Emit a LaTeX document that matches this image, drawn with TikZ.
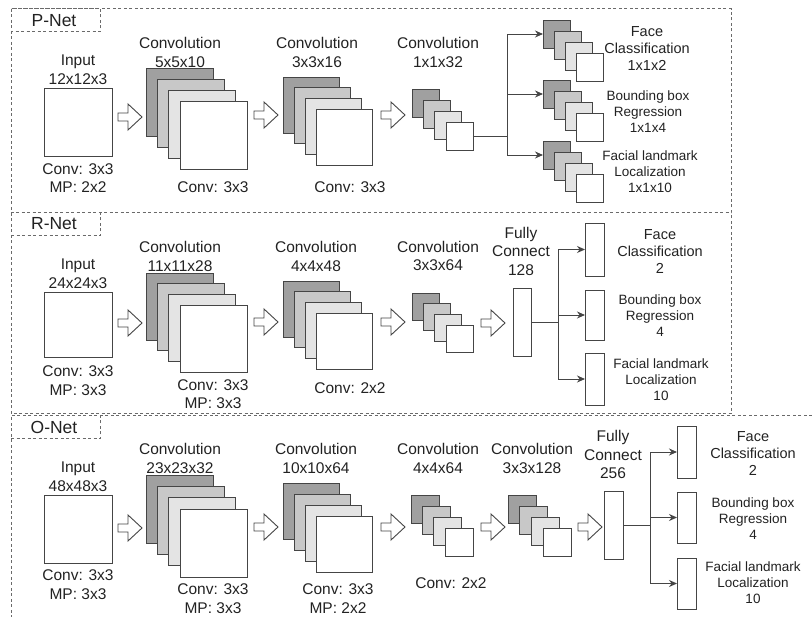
\documentclass[tikz,border=0pt]{standalone}
\usepackage{fontspec}
\setmainfont{Liberation Sans}
\usetikzlibrary{arrows.meta}
\definecolor{g1}{HTML}{A0A0A0}
\definecolor{g2}{HTML}{C8C8C8}
\definecolor{g3}{HTML}{E4E4E4}
\definecolor{ink}{HTML}{222222}
\definecolor{edge}{HTML}{454545}
\definecolor{frm}{HTML}{6A6A6A}
\tikzset{
  frame/.style={draw=frm, line width=1pt, dash pattern=on 3pt off 2.5pt},
  sq/.style={draw=edge, line width=0.9pt, rectangle, inner sep=0pt, outer sep=0pt},
  t/.style={font=\fontsize{15.5}{18.5}\selectfont, text=ink, align=center, inner sep=0pt},
  ts/.style={font=\fontsize{14.5}{17}\selectfont, text=ink, align=center, inner sep=0pt},
  tss/.style={font=\fontsize{13.5}{16}\selectfont, text=ink, align=center, inner sep=0pt},
  tn/.style={font=\fontsize{17.5}{20}\selectfont, text=ink, inner sep=0pt},
  harrow/.style={draw=edge, line width=0.9pt, fill=white, line join=miter},
  conn/.style={draw=edge, line width=0.9pt},
  carr/.style={conn, -{Stealth[length=8pt,width=7pt]}}
}
\newcommand\stk[7]{%
  \foreach \i/\c in {0/g1,1/g2,2/g3,3/white}{%
    \node[sq, fill=\c, minimum width=#4, minimum height=#5] (#1\i) at ({#2+\i*#6+#4/2},{#3+\i*#7+#5/2}) {};
  }}
\newcommand\blockarrow[2]{%
  \draw[harrow] (#1,{#2-4}) -- ({#1+10},{#2-4}) -- ({#1+10},{#2-13}) -- ({#1+24},#2) -- ({#1+10},{#2+13}) -- ({#1+10},{#2+4}) -- (#1,{#2+4}) -- cycle;}
\begin{document}
\begin{tikzpicture}[x=1pt,y=-1pt]
\useasboundingbox (0,0) rectangle (812,617);
% frames
\draw[frame] (11,9) rectangle (731,213);
\draw[frame] (11,9) rectangle (100,32);
\draw[frame] (11,213) -- (11,414) -- (731,414) -- (731,213);
\draw[frame] (11,236) -- (100,236) -- (100,213);
\draw[frame] (812,415.5) -- (11,415.5) -- (11,617);
\draw[frame] (11,439) -- (100,439) -- (100,415.5);
\node[tn] (plab) at (54,20.5) {P-Net};
\node[tn] (rlab) at (54,224) {R-Net};
\node[tn] (olab) at (54,427) {O-Net};

% ---------------- P-Net ----------------
\node[sq, fill=white, minimum width=68, minimum height=68] (pin) at (78,122) {};
\node[t] (pinl) at (78,69.5) {Input\\12x12x3};
\node[t] (pinb) at (78,178) {Conv: 3x3\\MP: 2x2};
\blockarrow{118}{117}
\stk{pa}{146}{68}{67}{68}{11.33}{11}
\node[t] (pal) at (180,52.5) {Convolution\\5x5x10};
\node[t] (pab) at (213,187) {Conv: 3x3};
\blockarrow{254}{115}
\stk{pb}{283}{77}{56}{56}{11}{10.67}
\node[t] (pbl) at (317,52.5) {Convolution\\3x3x16};
\node[t] (pbb) at (350,187) {Conv: 3x3};
\blockarrow{381}{115}
\stk{pc}{412}{89}{27}{28}{11.33}{11}
\node[t] (pcl) at (438,52.5) {Convolution\\1x1x32};
\stk{pf}{543}{20}{27}{28}{11}{11}
\stk{pr}{543}{80}{27}{28}{11}{11}
\stk{pl}{543}{141}{27}{28}{11}{11}
\draw[conn] (pc3.east) -- ++(34,0) coordinate (pj);
\draw[carr] (pj) |- (pf0.west);
\draw[carr] (pj) |- (pr0.west);
\draw[carr] (pj) |- (pl0.west);
\node[ts] (pfl) at (647,49) {Face\\Classification\\1x1x2};
\node[tss] (prl) at (648,112) {Bounding box\\Regression\\1x1x4};
\node[tss] (pll) at (650,172) {Facial landmark\\Localization\\1x1x10};

% ---------------- R-Net ----------------
\node[sq, fill=white, minimum width=68, minimum height=65] (rin) at (78,324.5) {};
\node[t] (rinl) at (78,273.5) {Input\\24x24x3};
\node[t] (rinb) at (78,380.5) {Conv: 3x3\\MP: 3x3};
\blockarrow{118}{323}
\stk{ra}{146}{273}{67}{67}{11.33}{10.67}
\node[t] (ral) at (180,256.5) {Convolution\\11x11x28};
\node[t] (rab) at (213,394) {Conv: 3x3\\MP: 3x3};
\blockarrow{254}{322}
\stk{rb}{283}{281}{56}{56}{11}{10.67}
\node[t] (rbl) at (316,256.5) {Convolution\\4x4x48};
\node[t] (rbb) at (350,388) {Conv: 2x2};
\blockarrow{381}{322}
\stk{rc}{412}{293}{27}{27}{11.33}{10.67}
\node[t] (rcl) at (438,256) {Convolution\\3x3x64};
\blockarrow{481}{323}
\node[sq, fill=white, minimum width=18, minimum height=68] (rfc) at (522,322) {};
\node[t] (rfcl) at (521,251) {Fully\\Connect\\128};
\node[sq, fill=white, minimum width=19, minimum height=53] (rf) at (594.5,249.5) {};
\node[sq, fill=white, minimum width=19, minimum height=50] (rr) at (594.5,315) {};
\node[sq, fill=white, minimum width=19, minimum height=52] (rl) at (594.5,379) {};
\draw[conn] (rfc.east) -- ++(27,0) coordinate (rj);
\draw[carr] (rj) |- (rf.west);
\draw[carr] (rj) |- (rr.west);
\draw[carr] (rj) |- (rl.west);
\node[ts] (rfl) at (660,252) {Face\\Classification\\2};
\node[tss] (rrl) at (660,316) {Bounding box\\Regression\\4};
\node[tss] (rll) at (661,380) {Facial landmark\\Localization\\10};

% ---------------- O-Net ----------------
\node[sq, fill=white, minimum width=68, minimum height=68] (oin) at (78,529) {};
\node[t] (oinl) at (78,476.5) {Input\\48x48x3};
\node[t] (oinb) at (78,584.5) {Conv: 3x3\\MP: 3x3};
\blockarrow{118}{528}
\stk{oa}{146}{475}{67}{68}{11.33}{11.33}
\node[t] (oal) at (180,458.5) {Convolution\\23x23x32};
\node[t] (oab) at (213,598.5) {Conv: 3x3\\MP: 3x3};
\blockarrow{254}{527}
\stk{ob}{283}{483}{56}{56}{11}{11}
\node[t] (obl) at (316,458.5) {Convolution\\10x10x64};
\node[t] (obb) at (338,598.5) {Conv: 3x3\\MP: 2x2};
\blockarrow{381}{527}
\stk{oc}{411}{495}{28}{28}{11.33}{11}
\node[t] (ocl) at (438,458.5) {Convolution\\4x4x64};
\node[t] (ocb) at (451,583) {Conv: 2x2};
\blockarrow{481}{527}
\stk{od}{508}{495}{28}{28}{11.67}{11}
\node[t] (odl) at (532,458.5) {Convolution\\3x3x128};
\blockarrow{578}{527}
\node[sq, fill=white, minimum width=19, minimum height=68] (ofc) at (613.5,525) {};
\node[t] (ofcl) at (613,454.5) {Fully\\Connect\\256};
\node[sq, fill=white, minimum width=19, minimum height=52] (of) at (686.5,452) {};
\node[sq, fill=white, minimum width=19, minimum height=51] (or) at (686.5,517.5) {};
\node[sq, fill=white, minimum width=19, minimum height=51] (ol) at (686.5,583.5) {};
\draw[conn] (ofc.east) -- ++(27,0) coordinate (oj);
\draw[carr] (oj) |- (of.west);
\draw[carr] (oj) |- (or.west);
\draw[carr] (oj) |- (ol.west);
\node[ts] (ofl) at (753,454) {Face\\Classification\\2};
\node[tss] (orl) at (753,519) {Bounding box\\Regression\\4};
\node[tss] (oll) at (753,583) {Facial landmark\\Localization\\10};
\end{tikzpicture}
\end{document}
